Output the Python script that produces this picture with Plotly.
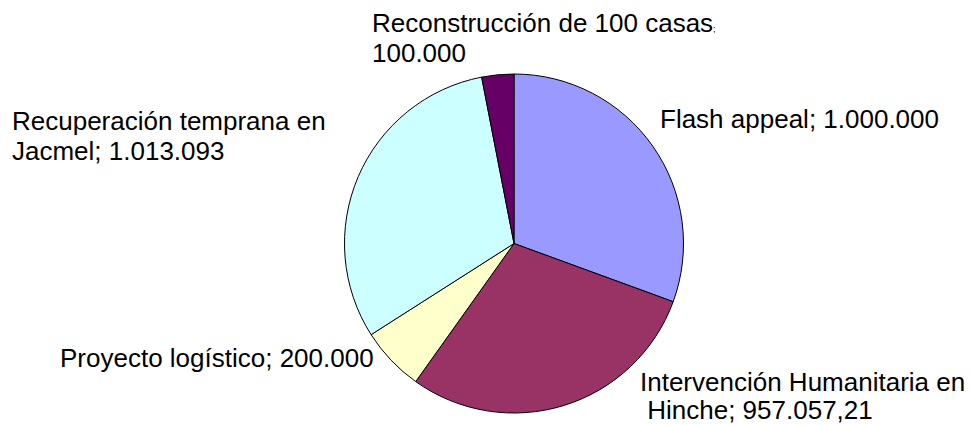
import plotly.graph_objects as go

# ---- data ----
labels = ["Flash appeal", "Intervención Humanitaria en Hinche", "Proyecto logístico",
          "Recuperación temprana en Jacmel", "Reconstrucción de 100 casas"]
values = [1000000, 957057.21, 200000, 1013093, 100000]
value_texts = ["1.000.000", "957.057,21", "200.000", "1.013.093", "100.000"]
colors = ["#9999FF", "#993366", "#FFFFCC", "#CCFFFF", "#660066"]

# label lines (as shown in the chart) and their placement in pixels (left x, middle y)
label_lines = [
    [f"{labels[0]}; {value_texts[0]}"],
    ["Intervención Humanitaria en", f" Hinche; {value_texts[1]}"],
    [f"{labels[2]}; {value_texts[2]}"],
    ["Recuperación temprana en", f"Jacmel; {value_texts[3]}"],
    [f"{labels[4]}<span style='font-size:9px'>;</span>", value_texts[4]],
]
label_pos = [
    [(658, 119)],
    [(638, 382), (638, 410)],
    [(58, 358)],
    [(10, 121), (10, 151)],
    [(370, 23), (370, 53)],
]

W, H = 971, 425
cx, cy, r = 514, 243.5, 169.5

fig = go.Figure(go.Pie(
    labels=labels, values=values, sort=False, direction="clockwise", rotation=0,
    marker=dict(colors=colors, line=dict(color="#000000", width=1)),
    textinfo="none", hoverinfo="label+value", showlegend=False,
    domain=dict(x=[(cx - r) / W, (cx + r) / W], y=[(H - cy - r) / H, (H - cy + r) / H]),
))

for lines, poss in zip(label_lines, label_pos):
    for t, (px, py) in zip(lines, poss):
        fig.add_annotation(text=t, xref="paper", yref="paper", x=px / W, y=1 - py / H,
                           xanchor="left", yanchor="middle", showarrow=False,
                           font=dict(family="Liberation Sans, Arial", size=26, color="#000000"))

fig.update_layout(width=W, height=H, margin=dict(l=0, r=0, t=0, b=0),
                  paper_bgcolor="#FFFFFF", plot_bgcolor="#FFFFFF")
fig.write_html("out.html", config={"displayModeBar": False},
               post_script="document.body.style.margin='0';document.body.style.overflow='hidden';")
